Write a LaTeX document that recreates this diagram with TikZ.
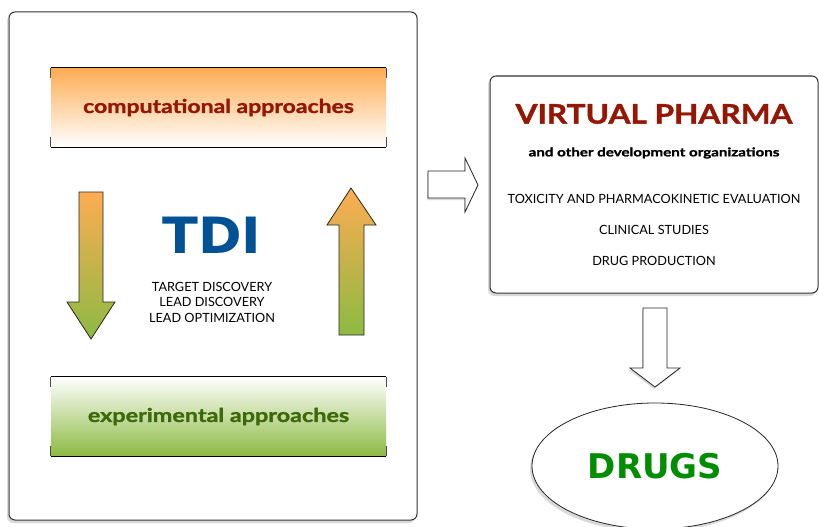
\documentclass[tikz,border=0pt]{standalone}
\usepackage{fontspec}
\usepackage{graphicx}
\setmainfont{Lato}
\newfontfamily\widefont{DejaVu Sans}
\newfontfamily\heavyfont{Lato}[BoldFeatures={FakeBold=1.2}]
\usetikzlibrary{shadows,shapes.geometric}

\definecolor{orangetop}{RGB}{253,172,82}
\definecolor{greenbot}{RGB}{140,186,66}
\definecolor{darkred}{RGB}{150,22,4}
\definecolor{darkgreen}{RGB}{62,104,12}
\definecolor{tdiblue}{RGB}{0,82,148}
\definecolor{drugsgreen}{RGB}{0,142,0}

\newcommand{\stretched}[2]{\scalebox{#1}[1]{#2}}

\tikzset{
  panel/.style={draw=black!80, line width=1pt, rounded corners=6pt, fill=white,
    drop shadow={shadow xshift=-2pt, shadow yshift=-3pt, opacity=0.3}},
  approach/.style={minimum width=335pt, minimum height=79pt, inner sep=0pt,
    font=\heavyfont\fontsize{19}{22}\selectfont\bfseries},
  blockarrow/.style={draw=black!85, line width=0.8pt, line join=miter},
  hollow/.style={blockarrow, fill=white,
    drop shadow={shadow xshift=-1pt, shadow yshift=-2pt, opacity=0.3}},
  small/.style={font=\fontsize{12.7}{15.5}\selectfont, align=center},
}

\begin{document}
\begin{tikzpicture}[x=1pt, y=-1pt]
  \useasboundingbox (0,0) rectangle (819,527);

  % left panel
  \node[panel, minimum width=408pt, minimum height=508pt] (tdibox) at (213,266) {};

  \node[approach, top color=orangetop, bottom color=white, text=darkred]
    (comp) at (218.5,107.5) {\stretched{1.21}{computational approaches}};
  \node[approach, top color=white, bottom color=greenbot, text=darkgreen]
    (exp) at (218.5,416.5) {\stretched{1.23}{experimental approaches}};

  \foreach \b in {comp, exp} {
    \draw[line width=0.9pt] (\b.north west) -- (\b.north east);
    \draw[line width=0.9pt] (\b.south west) -- (\b.south east);
    \draw[line width=0.9pt, black!70] (\b.north west) -- ++(0,10);
    \draw[line width=0.9pt, black!70] (\b.north east) -- ++(0,10);
    \draw[line width=0.9pt, black!70] (\b.south west) -- ++(0,-10);
    \draw[line width=0.9pt, black!70] (\b.south east) -- ++(0,-10);
  }

  \shade[blockarrow, top color=orangetop, bottom color=greenbot]
    (79,192) -- (103,192) -- (103,302) -- (115,302) -- (91,339)
    -- (67,302) -- (79,302) -- cycle;
  \shade[blockarrow, top color=orangetop, bottom color=greenbot]
    (351,188) -- (376,225) -- (364,225) -- (364,335) -- (339,335)
    -- (339,225) -- (327,225) -- cycle;

  \node[text=tdiblue, font=\widefont\fontsize{50}{52}\selectfont\bfseries]
    (tdi) at (212,235) {\stretched{1.05}{TDI}};
  \node[small] (tasks) at (212,302) {TARGET DISCOVERY\\LEAD DISCOVERY\\LEAD OPTIMIZATION};

  % right panel
  \node[panel, minimum width=328pt, minimum height=217pt] (pharma) at (654,184.5) {};
  \node[text=darkred, font=\heavyfont\fontsize{27}{30}\selectfont\bfseries]
    (vp) at (654,114) {\stretched{1.17}{VIRTUAL PHARMA}};
  \node[font=\heavyfont\fontsize{12}{14}\selectfont\bfseries] (other) at (654,153)
    {\stretched{1.26}{and other development organizations}};
  \node[small] (tox) at (654,199) {TOXICITY AND PHARMACOKINETIC EVALUATION};
  \node[small] (clin) at (654,230) {CLINICAL STUDIES};
  \node[small] (prod) at (654,261) {DRUG PRODUCTION};

  \node[ellipse, draw=black!85, line width=0.8pt, fill=white,
    minimum width=246pt, minimum height=126pt,
    drop shadow={shadow xshift=-2pt, shadow yshift=-3pt, opacity=0.3},
    text=drugsgreen, font=\widefont\fontsize{34}{36}\selectfont\bfseries]
    (drugs) at (655,466) {DRUGS};

  \draw[hollow] (428,171) -- (465,171) -- (465,158) -- (478,185)
    -- (465,212) -- (465,198) -- (428,198) -- cycle;
  \draw[hollow] (643,308) -- (667,308) -- (667,368) -- (680,368)
    -- (655,387) -- (630,368) -- (643,368) -- cycle;
\end{tikzpicture}
\end{document}
